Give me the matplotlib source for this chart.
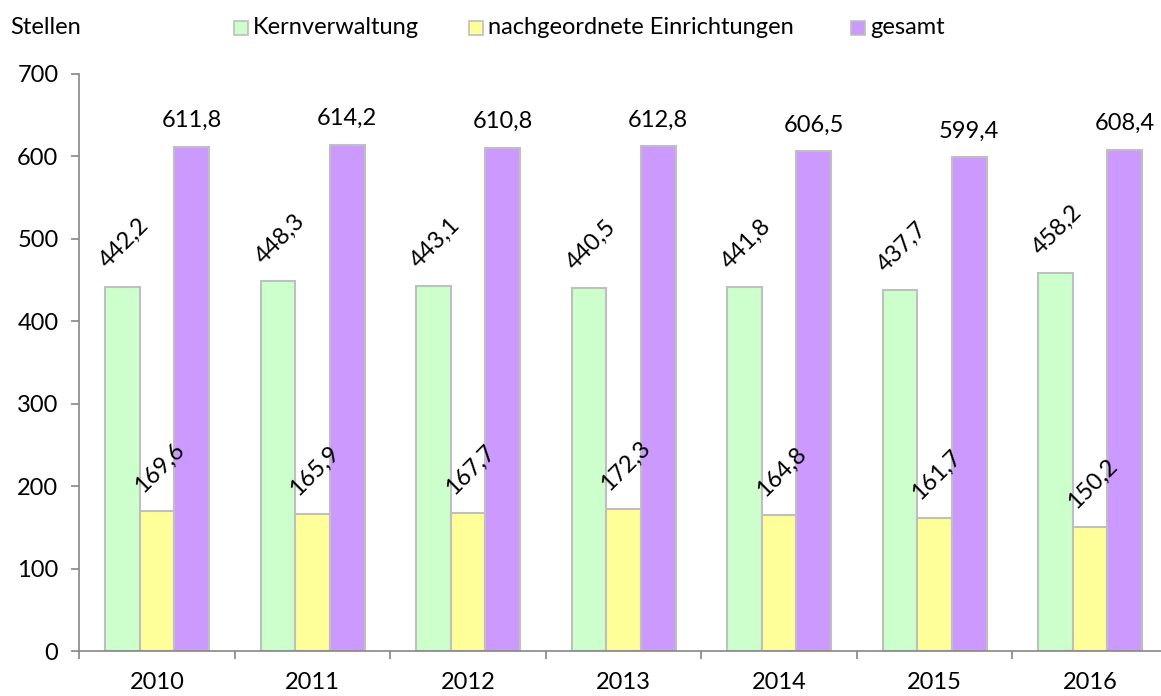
import matplotlib
matplotlib.use("Agg")
import matplotlib.pyplot as plt
import numpy as np
from matplotlib.patches import Rectangle

years = ["2010", "2011", "2012", "2013", "2014", "2015", "2016"]
kern = [442.2, 448.3, 443.1, 440.5, 441.8, 437.7, 458.2]
nach = [169.6, 165.9, 167.7, 172.3, 164.8, 161.7, 150.2]
gesamt = [611.8, 614.2, 610.8, 612.8, 606.5, 599.4, 608.4]
series_names = ["Kernverwaltung", "nachgeordnete Einrichtungen", "gesamt"]
yticks = [0, 100, 200, 300, 400, 500, 600, 700]

colors = ["#CCFFCC", "#FFFF99", "#CC99FF"]
edge = "#BFBFBF"
plt.rcParams['font.family'] = ['Lato', 'DejaVu Sans']

W, H = 1161, 696
fig = plt.figure(figsize=(W/100, H/100), dpi=100)
catw = 155.5
ax = fig.add_axes([79.3/W, 1-651/H, 7*catw/W, (651-74)/H])

x = np.arange(len(years))
bw = 0.223
fs = 17
for i, (vals, c) in enumerate(zip([kern, nach, gesamt], colors)):
    xs = x + (i-1)*bw
    ax.bar(xs, vals, bw, color=c, edgecolor=edge, linewidth=1.5, zorder=2)
    for xi, v in zip(xs, vals):
        lab = f"{v:.1f}".replace(".", ",")
        if i < 2:
            ax.annotate(lab, (xi, v), xytext=(2, 43), textcoords="offset pixels",
                        ha="center", va="center", rotation=45, fontsize=fs)
        else:
            ax.annotate(lab, (xi, v), xytext=(0, 26), textcoords="offset pixels",
                        ha="center", va="center", fontsize=fs)

ax.set_ylim(0, 700)
ax.set_xlim(-0.5, 6.5)
ax.set_yticks(yticks)
ax.set_yticklabels([str(t) for t in yticks], fontsize=fs)
ax.set_xticks(x)
ax.set_xticklabels(years, fontsize=fs)
ax.tick_params(axis='x', length=0, pad=15)
ax.set_xticks(np.arange(-0.5, 7.0, 1.0), minor=True)
ax.tick_params(axis='x', which='minor', length=6, color="#868686", width=1.2, direction='out')
ax.tick_params(axis='y', length=6, color="#868686", width=1.2, direction='out', pad=9)
for s in ["top", "right"]:
    ax.spines[s].set_visible(False)
for s in ["left", "bottom"]:
    ax.spines[s].set_color("#868686")
    ax.spines[s].set_linewidth(1.2)

yc = 1 - 28/H
fig.text(10/W, yc, "Stellen", fontsize=fs, ha="left", va="center")
sq = 14
for (px, name, c, tx) in [(234, series_names[0], colors[0], 253),
                           (469, series_names[1], colors[1], 488),
                           (851, series_names[2], colors[2], 870)]:
    fig.patches.append(Rectangle((px/W, yc - sq/2/H), sq/W, sq/H, facecolor=c,
                                 edgecolor=edge, linewidth=1.2, transform=fig.transFigure))
    fig.text(tx/W, yc, name, fontsize=fs, ha="left", va="center")

fig.savefig("out.png", dpi=100)
